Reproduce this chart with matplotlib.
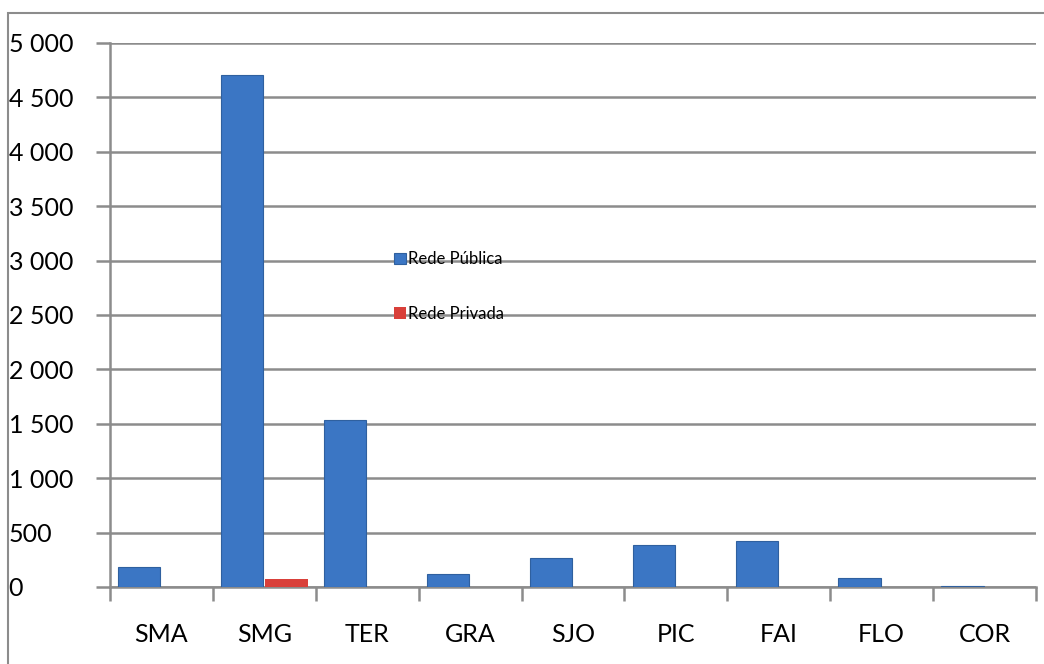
import matplotlib
matplotlib.use("Agg")
import matplotlib.pyplot as plt
from matplotlib.patches import Rectangle
import numpy as np

# municipalities and counts
categories = ["SMA", "SMG", "TER", "GRA", "SJO", "PIC", "FAI", "FLO", "COR"]
publica = [185, 4705, 1535, 120, 270, 385, 425, 80, 8]
privada = [0, 75, 0, 0, 0, 0, 0, 0, 0]
yticks = [0, 500, 1000, 1500, 2000, 2500, 3000, 3500, 4000, 4500, 5000]

plt.rcParams['font.family'] = ['Lato', 'DejaVu Sans']

fig = plt.figure(figsize=(10.44, 6.64), dpi=100)
ax = fig.add_axes([110/1044, 1 - 587/664, (1036-110)/1044, (587-43)/664])

# outer chart frame (cropped at right and bottom)
fig.patches.append(Rectangle((8/1044, -0.1), 1.2, 1 - 13/664 + 0.1,
                             transform=fig.transFigure, fill=False,
                             edgecolor="#8c8c8c", linewidth=1.5))

x = np.arange(len(categories))
w = 0.41
ax.bar(x - w/2 - 0.01, publica, width=w, color="#3b76c4", edgecolor="#2f609f",
       linewidth=0.8, label="Rede Pública", zorder=3)
ax.bar(x + w/2 + 0.01, privada, width=w, color="#d9403a", linewidth=0,
       label="Rede Privada", zorder=3)

ax.set_xlim(-0.5, len(categories) - 0.5)
ax.set_ylim(0, 5000)
ax.set_yticks(yticks)
ax.set_yticklabels([f"{v:,}".replace(",", " ") for v in yticks])
ax.yaxis.grid(True, color="#8c8c8c", linewidth=1.8, zorder=0)

ax.set_xticks(np.arange(len(categories) + 1) - 0.5, minor=False)
ax.set_xticklabels([])
ax.set_xticks(x, minor=True)
ax.set_xticklabels(categories, minor=True)
ax.tick_params(axis="x", which="major", length=10, width=1.8, color="#8c8c8c")
ax.tick_params(axis="x", which="minor", length=0, pad=26, labelsize=18)
ax.tick_params(axis="y", length=10, width=1.8, color="#8c8c8c", labelsize=18, pad=63)
for lab in ax.get_yticklabels():
    lab.set_horizontalalignment("left")

for side in ["top", "right"]:
    ax.spines[side].set_visible(False)
for side in ["left", "bottom"]:
    ax.spines[side].set_color("#8c8c8c")
    ax.spines[side].set_linewidth(1.8)

fig.legend(loc="upper left", bbox_to_anchor=(386/1044, 1 - 243/664), frameon=False,
           fontsize=12, handlelength=0.7, handleheight=0.7, handletextpad=0.1,
           labelspacing=2.3, borderpad=0)

fig.savefig("out.png", dpi=100)
